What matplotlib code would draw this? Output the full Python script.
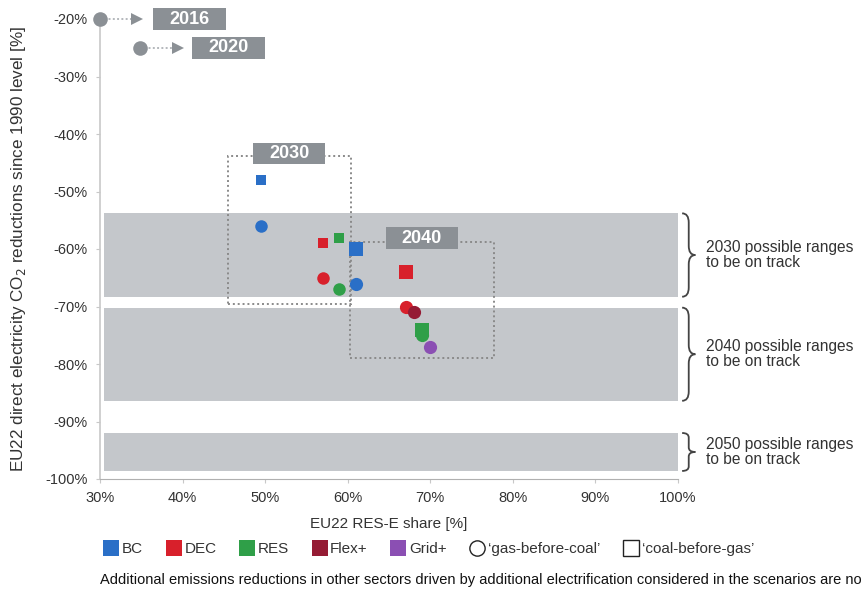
import matplotlib
matplotlib.use("Agg")
import matplotlib.pyplot as plt
from matplotlib.patches import Rectangle, PathPatch
from matplotlib.path import Path
from matplotlib.lines import Line2D

plt.rcParams['font.family'] = ['Liberation Sans', 'DejaVu Sans']

# scenario points: circles = 'gas-before-coal', squares = 'coal-before-gas'
scenarios = ["BC", "DEC", "RES", "Flex+", "Grid+"]
colors = ["#2a6fc7", "#d8202b", "#2f9f48", "#951b34", "#8b4fb3"]

sq30_scn = ["BC", "DEC", "RES"]
sq30_x = [49.5, 57.0, 59.0]
sq30_y = [-48.0, -59.0, -58.0]

ci30_scn = ["BC", "DEC", "RES"]
ci30_x = [49.5, 57.0, 59.0]
ci30_y = [-56.0, -65.0, -67.0]

sq40_scn = ["BC", "DEC", "RES"]
sq40_x = [61.0, 67.0, 69.0]
sq40_y = [-60.0, -64.0, -74.0]

ci40_scn = ["BC", "DEC", "Flex+", "RES", "Grid+"]
ci40_x = [61.0, 67.0, 68.0, 69.0, 70.0]
ci40_y = [-66.0, -70.0, -71.0, -75.0, -77.0]

# historic points
hist_years = ["2016", "2020"]
hist_x = [30.0, 34.8]
hist_y = [-20.0, -25.0]

# ranges to be on track
range_years = ["2030", "2040", "2050"]
range_lo = [-68.3, -86.4, -98.6]
range_hi = [-53.8, -70.2, -92.0]

xticks = [30, 40, 50, 60, 70, 80, 90, 100]
yticks = [-20, -30, -40, -50, -60, -70, -80, -90, -100]

col = dict(zip(scenarios, colors))
band_gray = "#c4c7cb"
box_gray = "#8b9095"
txt = "#333333"

fig = plt.figure(figsize=(8.61, 5.97), dpi=100)
ax = fig.add_axes([100 / 861, 1 - 479 / 597, 578 / 861, 460 / 597])
ax.set_xlim(30, 100)
ax.set_ylim(-100, -20)

# bands
for lo, hi in zip(range_lo, range_hi):
    ax.add_patch(Rectangle((30.5, lo), 69.5, hi - lo, color=band_gray, lw=0, zorder=0))

# curly braces + labels
def brace(x, y0, y1, w):
    ym = (y0 + y1) / 2
    d = min(1.6, (y1 - y0) * 0.12)
    xm = x + w * 0.5
    verts = [(x, y1),
             (xm, y1), (xm, y1 - d),
             (xm, ym + d),
             (xm, ym), (x + w, ym),
             (xm, ym), (xm, ym - d),
             (xm, y0 + d),
             (xm, y0), (x, y0)]
    codes = [Path.MOVETO,
             Path.CURVE3, Path.CURVE3,
             Path.LINETO,
             Path.CURVE3, Path.CURVE3,
             Path.CURVE3, Path.CURVE3,
             Path.LINETO,
             Path.CURVE3, Path.CURVE3]
    p = PathPatch(Path(verts, codes), fill=False, lw=1.3, ec="#444444", clip_on=False)
    ax.add_patch(p)

for yr, lo, hi in zip(range_years, range_lo, range_hi):
    brace(100.5, lo, hi, 1.6)
    ax.text(103.4, (lo + hi) / 2, f"{yr} possible ranges\nto be on track", ha="left", va="center",
            fontsize=11.2, color=txt, linespacing=1.0, clip_on=False)

# dotted boxes for 2030 / 2040
ax.add_patch(Rectangle((45.5, -69.5), 14.9, 25.6, fill=False, ec="#8a8a8a", ls=(0, (1, 1.5)), lw=1.4, zorder=1))
ax.add_patch(Rectangle((60.3, -79.0), 17.4, 20.3, fill=False, ec="#8a8a8a", ls=(0, (1, 1.5)), lw=1.4, zorder=1))

def year_box(x0, x1, yc, label):
    ax.add_patch(Rectangle((x0, yc - 1.9), x1 - x0, 3.8, color=box_gray, lw=0, zorder=3, clip_on=False))
    ax.text((x0 + x1) / 2, yc, label, color="white", fontsize=13, fontweight="bold",
            ha="center", va="center", zorder=4, clip_on=False)

year_box(48.5, 57.3, -43.4, "2030")
year_box(64.6, 73.3, -58.1, "2040")

# historic points with arrows
tri_x = [34.5, 39.4]
box_x = [(36.4, 45.3), (41.1, 50.0)]
for yr, hx, hy, tx, (b0, b1) in zip(hist_years, hist_x, hist_y, tri_x, box_x):
    ax.plot([hx, tx], [hy, hy], color="#b4b8bc", ls=(0, (1, 1.2)), lw=1.4, clip_on=False, zorder=3)
    ax.plot(tx, hy, marker=">", color=box_gray, ms=9, mew=0, clip_on=False, zorder=4)
    ax.plot(hx, hy, "o", color=box_gray, ms=10.5, mew=0, clip_on=False, zorder=5)
    year_box(b0, b1, hy, yr)

# scenario markers
for scn, xs, ys in zip(sq30_scn, sq30_x, sq30_y):
    ax.plot(xs, ys, "s", color=col[scn], ms=7.5, mew=0, zorder=5)
for scn, xs, ys in zip(ci30_scn, ci30_x, ci30_y):
    ax.plot(xs, ys, "o", color=col[scn], ms=9, mew=0, zorder=5)
for scn, xs, ys in zip(sq40_scn, sq40_x, sq40_y):
    ax.plot(xs, ys, "s", color=col[scn], ms=10.5, mew=0, zorder=5)
for scn, xs, ys in zip(ci40_scn, ci40_x, ci40_y):
    ax.plot(xs, ys, "o", color=col[scn], ms=9.5, mew=0, zorder=6)

# axes styling
for s in ["top", "right"]:
    ax.spines[s].set_visible(False)
ax.spines["left"].set_color("#c8c8c8")
ax.spines["left"].set_linewidth(1.2)
ax.spines["bottom"].set_color("#b0b0b0")
ax.spines["bottom"].set_linestyle((0, (1, 1)))
ax.set_xticks(xticks)
ax.set_xticklabels([f"{t}%" for t in xticks])
ax.set_yticks(yticks)
ax.set_yticklabels([f"{t}%" for t in yticks])
ax.tick_params(length=3, color="#c8c8c8", labelsize=10.5, labelcolor=txt, pad=6)

ax.set_xlabel("EU22 RES-E share [%]", fontsize=11, color=txt, labelpad=8)
ax.set_ylabel("EU22 direct electricity CO$_2$ reductions since 1990 level [%]", fontsize=12.3, color=txt, labelpad=12)

# legend
handles = [Line2D([], [], ls="none", marker="s", ms=11, mew=0, color=c) for c in colors]
handles += [Line2D([], [], ls="none", marker="o", ms=11, mfc="white", mec="#222222", mew=1),
            Line2D([], [], ls="none", marker="s", ms=11, mfc="white", mec="#222222", mew=1)]
labels = scenarios + ["\u2018gas-before-coal\u2019", "\u2018coal-before-gas\u2019"]
fig.legend(handles, labels, loc="center left", bbox_to_anchor=(96 / 861, 1 - 549 / 597), ncol=7,
           frameon=False, fontsize=11, handletextpad=0.1, columnspacing=1.4, borderaxespad=0,
           handlelength=1.2, labelcolor=txt)

fig.text(100 / 861, 1 - 580 / 597,
         "Additional emissions reductions in other sectors driven by additional electrification considered in the scenarios are not shown.",
         fontsize=10.5, color="#111111", va="center", ha="left")

fig.savefig("out.png", dpi=100)
